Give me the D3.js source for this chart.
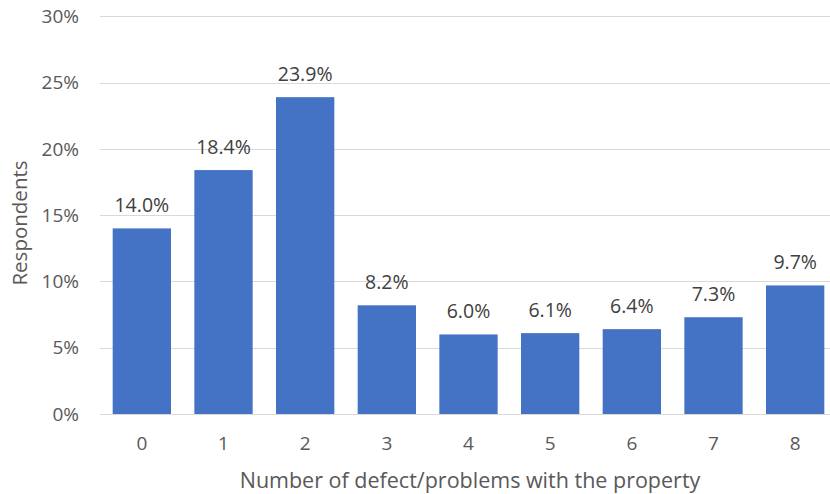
<!DOCTYPE html>
<html><head><meta charset="utf-8">
<script src="https://cdn.jsdelivr.net/npm/d3@7"></script>
<style>body{margin:0;background:#fff}svg{display:block}text{font-family:"Open Sans",sans-serif}</style>
</head><body><svg id="c" width="830" height="494"></svg>
<script>
const categories = ["0","1","2","3","4","5","6","7","8"];
const values = [14.0, 18.4, 23.9, 8.2, 6.0, 6.1, 6.4, 7.3, 9.7];
const yTicks = [0,5,10,15,20,25,30];
const xTitle = "Number of defect/problems with the property";
const yTitle = "Respondents";

const svg = d3.select("#c");
const mLeft = 101, mRight = 836, mTop = 16.3, mBottom = 414;
const x = d3.scaleBand().domain(categories).range([mLeft, mRight]).paddingInner(0.286).paddingOuter(0.143);
const y = d3.scaleLinear().domain([0,30]).range([mBottom, mTop]);

svg.append("g").selectAll("line").data(yTicks).join("line")
  .attr("x1", 100).attr("x2", 830)
  .attr("y1", d => Math.round(y(d))+0.5).attr("y2", d => Math.round(y(d))+0.5)
  .attr("stroke", "#d9d9d9").attr("stroke-width", 1);

svg.append("g").selectAll("text").data(yTicks).join("text")
  .attr("x", 79).attr("y", d => y(d)).attr("dy", "0.35em")
  .attr("text-anchor", "end").attr("fill", "#595959").attr("font-size", 19)
  .text(d => d + "%");

svg.append("g").selectAll("rect").data(values).join("rect")
  .attr("x", (d,i) => x(categories[i])).attr("width", x.bandwidth())
  .attr("y", d => y(d)).attr("height", d => mBottom - y(d))
  .attr("fill", "#4472c4");

svg.append("g").selectAll("text").data(values).join("text")
  .attr("x", (d,i) => x(categories[i]) + x.bandwidth()/2)
  .attr("y", d => y(d) - 16)
  .attr("text-anchor", "middle").attr("fill", "#404040").attr("font-size", 19.5)
  .text(d => d.toFixed(1) + "%");

svg.append("g").selectAll("text").data(categories).join("text")
  .attr("x", d => x(d) + x.bandwidth()/2).attr("y", 443).attr("dy", "0.35em")
  .attr("text-anchor", "middle").attr("fill", "#595959").attr("font-size", 19)
  .text(d => d);

svg.append("text").attr("x", 470).attr("y", 480).attr("dy", "0.35em")
  .attr("text-anchor", "middle").attr("fill", "#595959").attr("font-size", 21.5).text(xTitle);

svg.append("text").attr("transform", "translate(20,223) rotate(-90)").attr("dy", "0.35em")
  .attr("text-anchor", "middle").attr("fill", "#595959").attr("font-size", 20.5).text(yTitle);
</script></body></html>
